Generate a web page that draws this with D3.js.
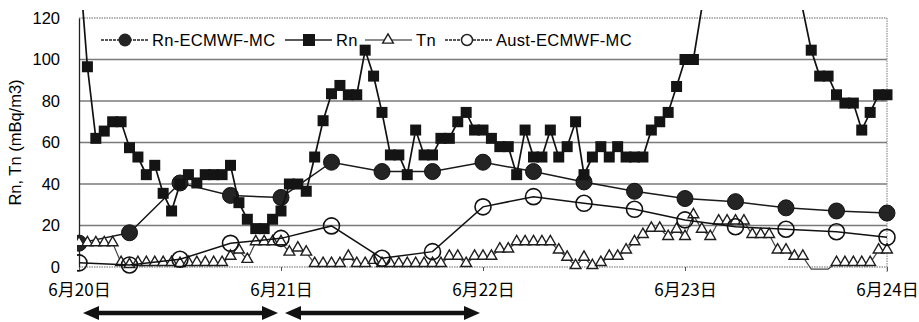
<!DOCTYPE html>
<html>
<head>
<meta charset="utf-8">
<script src="https://cdn.jsdelivr.net/npm/d3@7"></script>
<style>
  html, body { margin: 0; padding: 0; background: #fff; }
  svg { display: block; }
  text { font-family: "Liberation Sans", Arial, sans-serif; fill: #000; }
  .cjk { font-family: "Noto Sans CJK JP", "Liberation Sans", sans-serif; }
</style>
</head>
<body>
<svg id="chart" width="919" height="322"></svg>
<script>
// Hourly radon (Rn) concentration, 6/20 00:00 .. 6/24 00:00 (null = above the chart, not shown)
const rnHourly = [
  148, 96.5, 62, 65.5, 70, 70, 57.5, 53, 44.5, 49, 35.5, 27,
  40, 44.5, 40.5, 44.5, 44.5, 44.5, 49, 31, 23, 18.5, 18.5, 23,
  27, 40, 40, 36.5, 53, 70.5, 83.5, 87.5, 83, 83, 104.5, 92,
  74.5, 54, 54, 44.5, 66, 54, 54, 62, 62, 70, 74.5, 66,
  66, 62, 58, 58, 44.5, 66, 53, 53, 66, 53, 58, 70,
  44.5, 53, 58, 53, 58, 53, 53, 53, 66, 70, 74.5, 87,
  100, 100, 125, null, null, null, null, null, null, null, null, null,
  null, null, 124, 104.5, 92, 92, 83, 79, 79, 66, 74.5, 83,
  83
];

// Hourly thoron (Tn) concentration
const tnHourly = [
  11.5, 11.5, 11.5, 11.5, 11.5, 2, 1, 2, 2, 2, 2, 2,
  1.5, 2, 2, 2, 2, 2, 5, 8, 3.5, 12, 12, 12,
  12, 7, 9, 7, 1.5, 1.5, 1.5, 1.5, 5, 1.5, 1.5, 3,
  1.5, 1.5, 1.5, 1.5, 1.5, 1.5, 1.5, 1.5, 5, 5, 1.5, 5,
  5, 5, 8.5, 8.5, 12, 12, 12, 12, 12, 8, 4.5, 0.5,
  4.5, 0.5, 2, 5, 5, 8, 12, 15.5, 18.5, 18.5, 14.5, 18,
  14.5, 25, 18, 14.5, 22, 22, 22, 22, 15.5, 15.5, 15.5, 8,
  8, 5, 5, -1, -1, -1, 2, 2, 2, 2, 2, 8,
  8
];

// 6-hourly model results
const rnEcmwfMc = [11.5, 16.5, 40.5, 34.5, 33.5, 50.5, 46, 46, 50.5, 46, 41, 36.5, 33, 31.5, 28.5, 27, 26];
const austEcmwfMc = [2, 1, 3.7, 11.4, 13.8, 19.8, 4.2, 7.4, 29, 33.9, 30.7, 27.8, 22.7, 19.4, 18.2, 17, 14.3];
const modelStepHours = 6;

// Axis ticks
const dayTickHours = [0, 24, 48, 72, 96];
const dayTickLabels = ["6月20日", "6月21日", "6月22日", "6月23日", "6月24日"];
const yTicks = [0, 20, 40, 60, 80, 100, 120];

// Day-long periods marked under the axis (hours)
const periodStart = [0, 24];
const periodEnd = [24, 48];

const seriesNames = ["Rn-ECMWF-MC", "Rn", "Tn", "Aust-ECMWF-MC"];

const svg = d3.select("#chart");
const margin = { left: 79, right: 32, top: 18, bottom: 55 };
const W = 919, H = 322;

const x = d3.scaleLinear().domain([0, 96]).range([margin.left, W - margin.right]);
const y = d3.scaleLinear().domain([0, 120]).range([H - margin.bottom, margin.top]);

const x0 = x.range()[0], x1 = x.range()[1];
const yTop = y(120), yBot = y(0);

// horizontal grid lines
svg.append("g").selectAll("line")
  .data(yTicks.filter(v => v > 0 && v < 120))
  .join("line")
  .attr("x1", x0).attr("x2", x1)
  .attr("y1", d => y(d)).attr("y2", d => y(d))
  .attr("stroke", "#7a7a7a").attr("stroke-width", 1.3);

// plot frame: dotted top / right / bottom
svg.append("line").attr("x1", x0).attr("x2", x1).attr("y1", yTop).attr("y2", yTop)
  .attr("stroke", "#999").attr("stroke-width", 1.3).attr("stroke-dasharray", "1.5,1");
svg.append("line").attr("x1", x1).attr("x2", x1).attr("y1", yTop).attr("y2", yBot + 5)
  .attr("stroke", "#999").attr("stroke-width", 1.3).attr("stroke-dasharray", "1.5,1");
svg.append("line").attr("x1", x0).attr("x2", x1).attr("y1", yBot).attr("y2", yBot)
  .attr("stroke", "#999").attr("stroke-width", 1.3).attr("stroke-dasharray", "1.5,1");

// y axis
const yAxis = d3.axisLeft(y).tickValues(yTicks).tickSize(0).tickPadding(19);
const gy = svg.append("g").attr("transform", `translate(${x0},0)`).call(yAxis);
gy.select(".domain").attr("stroke", "#222").attr("stroke-width", 1.3);
gy.selectAll("text").style("font-size", "16.5px").attr("fill", "#000")
  .style("font-family", "'Liberation Sans', Arial, sans-serif");

// x axis
const xAxis = d3.axisBottom(x).tickValues(dayTickHours)
  .tickFormat((d, i) => dayTickLabels[i]).tickSize(4).tickPadding(13);
const gx = svg.append("g").attr("transform", `translate(0,${yBot})`).call(xAxis);
gx.select(".domain").remove();
gx.selectAll(".tick line").attr("stroke", "#555");
gx.selectAll("text").attr("class", "cjk").style("font-size", "17px").attr("fill", "#000");

// y axis title
svg.append("text")
  .attr("transform", `translate(21,${(yTop + yBot) / 2}) rotate(-90)`)
  .attr("text-anchor", "middle")
  .style("font-size", "16.5px")
  .text("Rn, Tn (mBq/m3)");

// clip for the data lines (lets them run a little above the frame)
svg.append("defs").append("clipPath").attr("id", "plotClip")
  .append("rect").attr("x", x0 - 2).attr("y", yTop - 8)
  .attr("width", x1 - x0 + 12).attr("height", yBot - yTop + 20);

const plot = svg.append("g").attr("clip-path", "url(#plotClip)");

const hourly = arr => arr.map((v, i) => ({ h: i, v }));
const sixHourly = arr => arr.map((v, i) => ({ h: i * modelStepHours, v }));

const line = d3.line().defined(d => d.v !== null).x(d => x(d.h)).y(d => y(d.v));

const rnEc = sixHourly(rnEcmwfMc);
const rn = hourly(rnHourly);
const tn = hourly(tnHourly);
const aust = sixHourly(austEcmwfMc);

// Rn-ECMWF-MC
plot.append("path").datum(rnEc).attr("d", line)
  .attr("fill", "none").attr("stroke", "#1a1a1a").attr("stroke-width", 1.5);
plot.append("g").selectAll("circle").data(rnEc).join("circle")
  .attr("cx", d => x(d.h)).attr("cy", d => y(d.v)).attr("r", 8)
  .attr("fill", "#242424").attr("stroke", "#111").attr("stroke-width", 1);

// Rn
plot.append("path").datum(rn).attr("d", line)
  .attr("fill", "none").attr("stroke", "#111").attr("stroke-width", 1.7);
plot.append("g").selectAll("rect").data(rn.filter(d => d.v !== null && d.v <= 120)).join("rect")
  .attr("x", d => x(d.h) - 5.5).attr("y", d => y(d.v) - 5.5)
  .attr("width", 11).attr("height", 11).attr("fill", "#141414");

// Tn
plot.append("path").datum(tn).attr("d", line)
  .attr("fill", "none").attr("stroke", "#444").attr("stroke-width", 1.2);
const tri = d3.symbol().type(d3.symbolTriangle).size(50);
plot.append("g").selectAll("path").data(tn.filter(d => d.v >= 0)).join("path")
  .attr("d", tri)
  .attr("transform", d => `translate(${x(d.h)},${y(d.v) - 0.5})`)
  .attr("fill", "#fff").attr("stroke", "#1e1e1e").attr("stroke-width", 1.4);

// Aust-ECMWF-MC
plot.append("path").datum(aust).attr("d", line)
  .attr("fill", "none").attr("stroke", "#111").attr("stroke-width", 1.5);
plot.append("g").selectAll("circle").data(aust).join("circle")
  .attr("cx", d => x(d.h)).attr("cy", d => y(d.v)).attr("r", 8)
  .attr("fill", "none").attr("stroke", "#111").attr("stroke-width", 1.6);

// legend
const legendX = [101, 285, 365, 445];
const legendY = 40;
const lg = svg.append("g");
seriesNames.forEach((name, i) => {
  const g = lg.append("g").attr("transform", `translate(${legendX[i]},${legendY})`);
  const dotted = (i === 0 || i === 3);
  g.append("line").attr("x1", 0).attr("x2", 47).attr("y1", 0).attr("y2", 0)
    .attr("stroke", i === 2 ? "#666" : "#222").attr("stroke-width", i === 1 ? 1.7 : 1.4)
    .attr("stroke-dasharray", dotted ? "3,1" : null);
  if (i === 0) {
    g.append("circle").attr("cx", 24).attr("cy", 0).attr("r", 6.5).attr("fill", "#242424");
  } else if (i === 1) {
    g.append("rect").attr("x", 18).attr("y", -6).attr("width", 12).attr("height", 12).attr("fill", "#141414");
  } else if (i === 2) {
    g.append("path").attr("d", tri).attr("transform", "translate(23,0)")
      .attr("fill", "#fff").attr("stroke", "#1e1e1e").attr("stroke-width", 1.4);
  } else {
    g.append("circle").attr("cx", 22).attr("cy", 0).attr("r", 5.5)
      .attr("fill", "#fff").attr("stroke", "#222").attr("stroke-width", 1.5);
  }
  g.append("text").attr("x", 51).attr("y", 6).style("font-size", "16.5px")
    .style("letter-spacing", "0.3px").text(name);
});

// period arrows under the x axis
const arrowY = 313;
const arrows = svg.append("g");
periodStart.forEach((s, i) => {
  const a = x(s) + 4, b = x(periodEnd[i]) - 3;
  arrows.append("line").attr("x1", a + 10).attr("x2", b - 10)
    .attr("y1", arrowY).attr("y2", arrowY)
    .attr("stroke", "#111").attr("stroke-width", 4.5);
  arrows.append("path")
    .attr("d", `M${a},${arrowY} L${a + 16},${arrowY - 7} L${a + 16},${arrowY + 7} Z`)
    .attr("fill", "#111");
  arrows.append("path")
    .attr("d", `M${b},${arrowY} L${b - 16},${arrowY - 7} L${b - 16},${arrowY + 7} Z`)
    .attr("fill", "#111");
});
</script>
</body>
</html>
